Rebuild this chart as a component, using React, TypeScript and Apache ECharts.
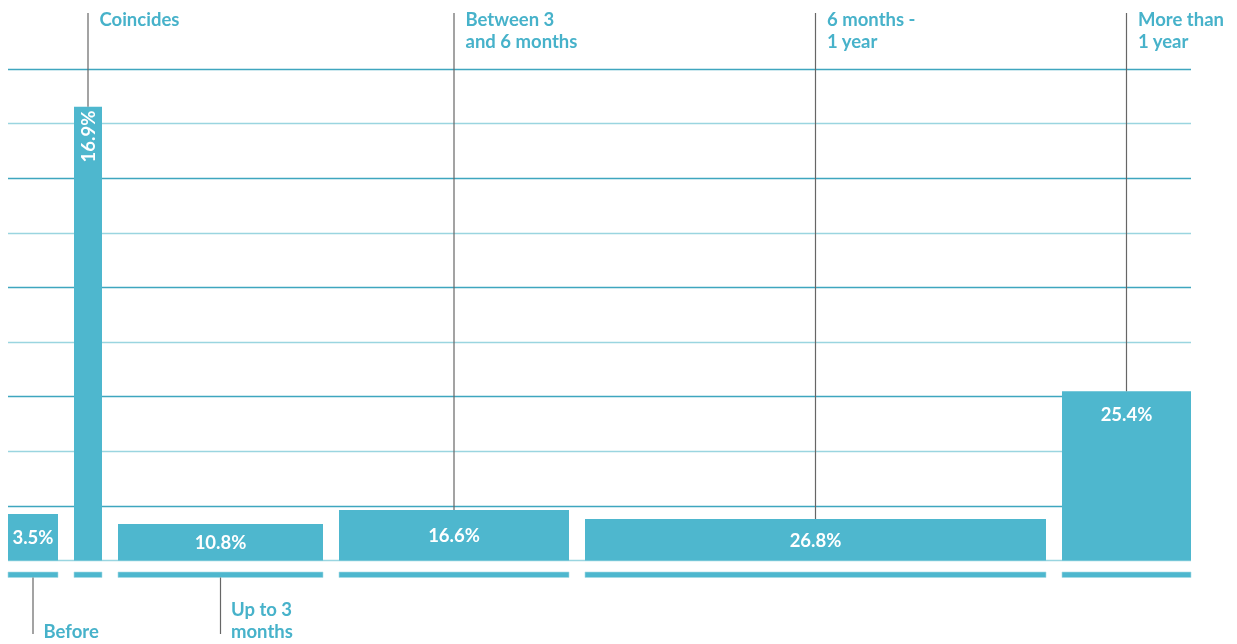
import React, { useEffect, useRef } from "react";
import * as echarts from "echarts";

const categories = [
  "Before",
  "Coincides",
  "Up to 3\nmonths",
  "Between 3\nand 6 months",
  "6 months -\n1 year",
  "More than\n1 year",
];
const percentages = [3.5, 16.9, 10.8, 16.6, 26.8, 25.4];
// relative width of each interval (x units) and bar height (y units)
const widths = [50, 28, 205, 230, 461, 129];
const heights = [0.85, 8.31, 0.67, 0.925, 0.76, 3.1];
const labelSide = ["bottom", "top", "bottom", "top", "top", "top"];
const gap = 16;

const BAR = "#4eb7ce";
const TEXT = "#47b2ca";
const LINE = "#666666";
const FONT = "Lato, 'Open Sans', sans-serif";

export default function App() {
  const ref = useRef<HTMLDivElement>(null);
  useEffect(() => {
    if (!ref.current) return;
    const chart = echarts.init(ref.current, null, { renderer: "svg" });
    let acc = 0;
    const data = widths.map((w, i) => {
      const start = acc;
      acc += w + gap;
      return [start, start + w, heights[i], i];
    });
    const total = acc - gap;

    const renderItem = (params: any, api: any) => {
      const i = params.dataIndex;
      const x0 = api.value(0);
      const x1 = api.value(1);
      const h = api.value(2);
      const p0 = api.coord([x0, 0]);
      const p1 = api.coord([x1, h]);
      const left = p0[0];
      const right = p1[0];
      const top = p1[1];
      const bottom = p0[1];
      const cx = (left + right) / 2;
      const children: any[] = [
        {
          type: "rect",
          shape: { x: left, y: top, width: right - left, height: bottom - top },
          style: { fill: BAR },
        },
        {
          type: "rect",
          shape: { x: left, y: bottom + 11.5, width: right - left, height: 5.5 },
          style: { fill: BAR, stroke: "#a8dce6", lineWidth: 0.6 },
        },
      ];
      const pct = percentages[i].toFixed(1) + "%";
      const pctFont = `bold 18.5px ${FONT}`;
      if (i === 1) {
        children.push({
          type: "text",
          x: cx,
          y: top + 4,
          rotation: Math.PI / 2,
          style: {
            text: pct,
            fill: "#fff",
            font: pctFont,
            align: "right",
            verticalAlign: "middle",
          },
        });
      } else if (i === 5) {
        children.push({
          type: "text",
          x: cx,
          y: top + 23,
          style: {
            text: pct,
            fill: "#fff",
            font: pctFont,
            align: "center",
            verticalAlign: "middle",
          },
        });
      } else {
        children.push({
          type: "text",
          x: cx,
          y: (top + bottom) / 2,
          style: {
            text: pct,
            fill: "#fff",
            font: pctFont,
            align: "center",
            verticalAlign: "middle",
          },
        });
      }
      if (labelSide[i] === "top") {
        children.push({
          type: "line",
          shape: { x1: cx, y1: 13, x2: cx, y2: top },
          style: { stroke: LINE, lineWidth: 1.2 },
        });
        children.push({
          type: "text",
          x: cx + 11.5,
          y: 8,
          style: {
            text: categories[i],
            fill: TEXT,
            font: `bold 18.5px ${FONT}`,
            lineHeight: 22,
            align: "left",
            verticalAlign: "top",
          },
        });
      } else {
        children.push({
          type: "line",
          shape: { x1: cx, y1: bottom + 17, x2: cx, y2: 634 },
          style: { stroke: LINE, lineWidth: 1.2 },
        });
        children.push({
          type: "text",
          x: cx + 10.5,
          y: 642,
          style: {
            text: categories[i],
            fill: TEXT,
            font: `bold 18.5px ${FONT}`,
            lineHeight: 22,
            align: "left",
            verticalAlign: "bottom",
          },
        });
      }
      return { type: "group", children };
    };

    chart.setOption({
      animation: false,
      grid: { left: 8, right: 46, top: 69, bottom: 83.5 },
      xAxis: {
        type: "value",
        min: 0,
        max: total,
        show: false,
      },
      yAxis: {
        type: "value",
        min: 0,
        max: 9,
        interval: 1,
        axisLine: { show: false },
        axisTick: { show: false },
        axisLabel: { show: false },
        splitLine: {
          show: true,
          lineStyle: { color: ["#9ad5e0", "#3fa6bf"], width: 1.4 },
        },
      },
      series: [
        {
          type: "custom",
          renderItem,
          data,
          clip: false,
          encode: { x: [0, 1], y: 2 },
        },
      ],
    });
    return () => chart.dispose();
  }, []);
  return (
    <div
      ref={ref}
      style={{ position: "fixed", left: 0, top: 0, width: 1237, height: 644 }}
    />
  );
}
